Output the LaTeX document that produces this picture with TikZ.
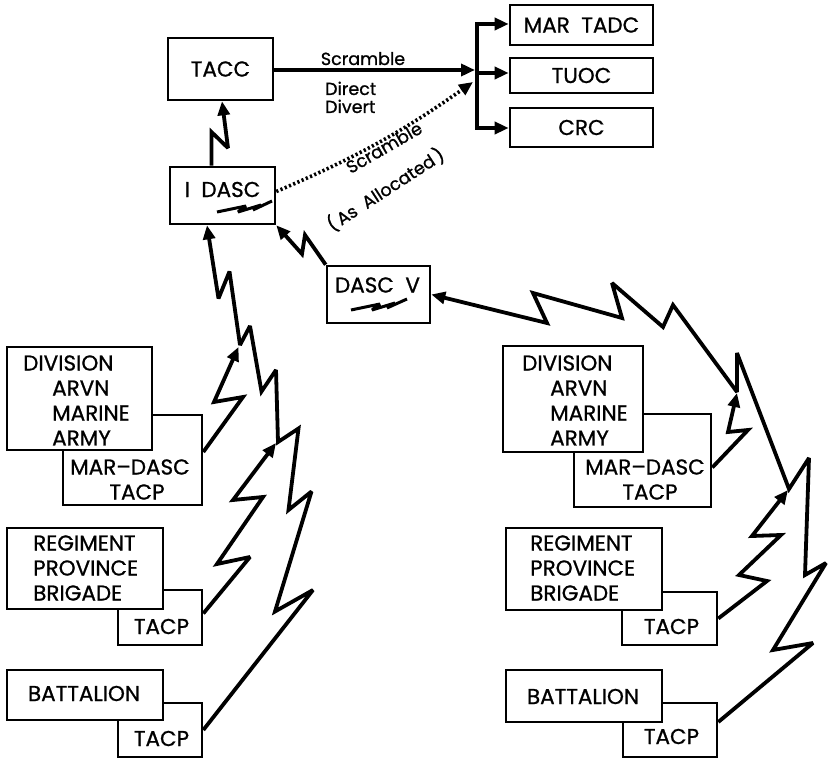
\documentclass[tikz,border=0pt]{standalone}
\usepackage{fontspec}
\setmainfont{Poppins}
\newfontfamily\diafont{Poppins}[FakeBold=0.9]
\usetikzlibrary{arrows.meta}
\begin{document}
\begin{tikzpicture}[x=1pt,y=-1pt,
  box/.style={draw, line width=2.6pt, fill=white, inner sep=0pt},
  lab/.style={font=\diafont\fontsize{21.5}{25}\selectfont, inner sep=0pt},
  small/.style={font=\diafont\fontsize{17.5}{20}\selectfont, inner sep=0pt},
  conn/.style={line width=3.8pt, line join=miter, miter limit=3},
  arr/.style={conn, -{Triangle[length=14pt,width=12pt]}},
  dotconn/.style={line width=3.6pt, dash pattern=on 2.2pt off 2.4pt, -{Triangle[length=14pt,width=12pt]}},
  bolt/.style={line width=3pt, line join=miter, miter limit=3}]
\useasboundingbox (0,0) rectangle (828,759);

% ---- top boxes
\node[box, minimum width=105pt, minimum height=62pt, lab] (tacc) at (220.5,69) {TACC};
\node[box, minimum width=105pt, minimum height=57pt] (idasc) at (222.5,195.5) {};
\node[lab] (idasctxt) at (222.5,189.5) {I\ \ DASC};
\node[box, minimum width=143pt, minimum height=40pt, lab] (tadc) at (581.5,25) {MAR\ \ TADC};
\node[box, minimum width=143pt, minimum height=35pt, lab] (tuoc) at (581.5,75.5) {TUOC};
\node[box, minimum width=143pt, minimum height=39pt, lab] (crc) at (581.5,127.5) {CRC};
\node[box, minimum width=103pt, minimum height=57pt] (dascv) at (378.5,294.5) {};
\node[lab] (dascvtxt) at (377.5,285) {DASC\ \ V};

% ---- lightning symbols
\draw[bolt, shift={(244,207)}] (-27,5) -- (2,-1) -- (-6,5) -- (17,-2) -- (9,3) -- (28,-6);
\draw[bolt, shift={(379,305)}] (-28,5) -- (1,-1) -- (-7,5) -- (16,-2) -- (8,3) -- (28,-6);

% ---- left column
\node[box, minimum width=139pt, minimum height=90pt] (tacpLa) at (132.5,460) {};
\node[box, minimum width=145pt, minimum height=103pt] (divL) at (79.5,398.5) {};
\node[lab, anchor=west] (divL1) at (23,363) {DIVISION};
\node[lab, anchor=west] (divL2) at (52,388) {ARVN};
\node[lab, anchor=west] (divL3) at (52,413) {MARINE};
\node[lab, anchor=west] (divL4) at (52,438) {ARMY};
\node[lab] (tacpLa1) at (130,467) {MAR–DASC};
\node[lab] (tacpLa2) at (137,492) {TACP};

\node[box, minimum width=84pt, minimum height=55pt] (tacpLb) at (160,617.5) {};
\node[box, minimum width=156pt, minimum height=81pt] (regL) at (85,568.5) {};
\node[lab, anchor=west] (regL1) at (33,543) {REGIMENT};
\node[lab, anchor=west] (regL2) at (33,568) {PROVINCE};
\node[lab, anchor=west] (regL3) at (33,593) {BRIGADE};
\node[lab] (tacpLb1) at (161.5,626.5) {TACP};

\node[box, minimum width=84pt, minimum height=54pt] (tacpLc) at (160,730) {};
\node[box, minimum width=156pt, minimum height=50pt] (batL) at (85,695) {};
\node[lab] (batL1) at (84,693.5) {BATTALION};
\node[lab] (tacpLc1) at (161.5,738.5) {TACP};

% ---- right column
\node[box, minimum width=137pt, minimum height=93pt] (tacpRa) at (642.5,460.5) {};
\node[box, minimum width=140pt, minimum height=106pt] (divR) at (573,399) {};
\node[lab, anchor=west] (divR1) at (522,363) {DIVISION};
\node[lab, anchor=west] (divR2) at (550,388) {ARVN};
\node[lab, anchor=west] (divR3) at (550,413) {MARINE};
\node[lab, anchor=west] (divR4) at (550,438) {ARMY};
\node[lab] (tacpRa1) at (645,467) {MAR–DASC};
\node[lab] (tacpRa2) at (650,492) {TACP};

\node[box, minimum width=95pt, minimum height=53pt] (tacpRb) at (669.5,618.5) {};
\node[box, minimum width=156pt, minimum height=82pt] (regR) at (584,569) {};
\node[lab, anchor=west] (regR1) at (530,543) {REGIMENT};
\node[lab, anchor=west] (regR2) at (530,568) {PROVINCE};
\node[lab, anchor=west] (regR3) at (530,593) {BRIGADE};
\node[lab] (tacpRb1) at (671.5,626.5) {TACP};

\node[box, minimum width=94pt, minimum height=54pt] (tacpRc) at (670,730) {};
\node[box, minimum width=156pt, minimum height=52pt] (batR) at (584,696) {};
\node[lab] (batR1) at (583,696.5) {BATTALION};
\node[lab] (tacpRc1) at (671.5,736.5) {TACP};

% ---- junction coordinates
\coordinate (brT) at (477,24);
\coordinate (brB) at (477,128);
\coordinate (brM) at (475,70);
\coordinate (brD) at (473,82);
\coordinate (jL1) at (240,345);
\coordinate (jL2) at (278,442);
\coordinate (jR1) at (737,392);
\coordinate (jR2) at (789,489);

% ---- connectors at top
\draw[arr] (tacc.east |- brM) -- (brM);
\draw[conn, line cap=rect] (brT) -- (brB);
\draw[arr] (brT) -- (tadc.west |- brT);
\draw[arr] (brT |- 0,73) -- (tuoc.west |- 0,73);
\draw[arr] (brB) -- (crc.west |- brB);
\node[small, anchor=base] (lscr) at (363,65) {Scramble};
\node[small, anchor=base west] (ldir) at (325,95) {Direct};
\node[small, anchor=base west] (ldiv) at (325,113) {Divert};

\draw[arr] ([xshift=-11pt]idasc.north) -- (211.5,132) -- (228,148) -- ([xshift=1.5pt]tacc.south);
\draw[dotconn] ([yshift=4pt]idasc.east) to[bend right=6] (brD);
\node[small, rotate=30] (lscr2) at (384,147.5) {Scramble};
\node[small, rotate=33] (lalloc) at (385.5,189.5) {(\,As\ \ Allocated\,)};

\draw[arr] (dascv.north west) -- (305,235) -- (302,254) -- (idasc.south east);

% ---- left chains
\draw[arr] (tacpLc.east) -- (313,590) -- (275,611.5) -- (311.5,491.5) -- (288.5,510)
  -- (298.5,428.5) -- (jL2) -- (276,370) -- (261.5,391.5) -- (250,326) -- (jL1)
  -- (229.5,271.5) -- (218.5,298.5) -- ([xshift=-15.5pt]idasc.south);
\draw[arr] ([yshift=8pt]tacpLa.east) -- (243,397) -- (214,402) -- ([shift={(-1.5,2)}]jL1);
\draw[arr] ([yshift=4pt]tacpLb.east) -- (250,557) -- (217,564) -- (263,497) -- (233,500) -- ([shift={(-2,1)}]jL2);

% ---- right chains
\draw[arr] ([yshift=8pt]tacpRc.east) -- (813,643) -- (773,650) -- (826,563) -- (805,575)
  -- (809,458) -- (jR2) -- (737,353) -- (jR1) -- (673,305) -- (663,327) -- (612,283)
  -- (622,318) -- (533,293) -- (547,323) -- (dascv.east);
\draw[arr] ([yshift=-7pt]tacpRa.east) -- (748,430) -- (728,432) -- ([shift={(0,1)}]jR1);
\draw[arr] (tacpRb.east) -- (767,581) -- (739,575) -- (781,535) -- (752,536) -- ([shift={(-1,1)}]jR2);
\end{tikzpicture}
\end{document}
